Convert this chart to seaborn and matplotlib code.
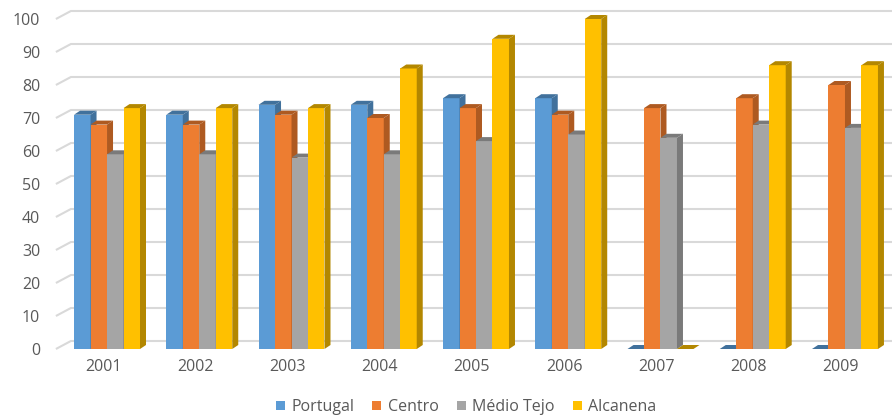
#!/usr/bin/env python3
import pandas as pd
import matplotlib
matplotlib.use("Agg")
import matplotlib.pyplot as plt
import matplotlib.transforms as mtransforms
from matplotlib.patches import Polygon
import seaborn as sns

# dados
anos = ["2001", "2002", "2003", "2004", "2005", "2006", "2007", "2008", "2009"]
regioes = ["Portugal", "Centro", "Médio Tejo", "Alcanena"]
portugal = [71, 71, 74, 74, 76, 76, 0, 0, 0]
centro = [68, 68, 71, 70, 73, 71, 73, 76, 80]
medio_tejo = [59, 59, 58, 59, 63, 65, 64, 68, 67]
alcanena = [73, 73, 73, 85, 94, 100, 0, 86, 86]

cores = ["#5B9BD5", "#ED7D31", "#A5A5A5", "#FFC000"]
cores_lado = ["#41719C", "#AE5A21", "#7A7A7A", "#B38700"]
cor_texto = "#595959"
cor_grelha = "#D9D9D9"

df = pd.DataFrame({"Ano": anos * 4,
                   "Regiao": [r for r in regioes for _ in anos],
                   "Valor": portugal + centro + medio_tejo + alcanena})

sns.set_style("white")
plt.rcParams["font.family"] = ["Open Sans", "DejaVu Sans"]

W_PX, H_PX = 892, 415
fig = plt.figure(figsize=(W_PX / 100, H_PX / 100), dpi=100)
ax_l, ax_r, ax_b, ax_t = 60.9, 891.1, 349, 19   # pixels (plano da frente)
ax = fig.add_axes([ax_l / W_PX, (H_PX - ax_b) / H_PX,
                   (ax_r - ax_l) / W_PX, (ax_b - ax_t) / H_PX])

sns.barplot(data=df, x="Ano", y="Valor", hue="Regiao", hue_order=regioes,
            palette=cores, width=0.715, saturation=1, linewidth=0, ax=ax)

ax.set_xlim(-0.5, 8.5)
ax.set_ylim(0, 100)
kx = 9 / (ax_r - ax_l)      # unidades x por pixel
ky = 100 / (ax_b - ax_t)    # unidades y por pixel

# efeito 3D: face lateral e topo de cada barra
dx, dy = 6 * kx, 4 * ky
for k, cont in enumerate(ax.containers):
    for p in cont:
        x0 = p.get_x()
        x1 = x0 + p.get_width()
        h = p.get_height()
        z = 2 + x0 * 0.01
        p.set_zorder(z)
        lado = Polygon([(x1, 0), (x1, h), (x1 + dx, h + dy), (x1 + dx, dy)],
                       closed=True, facecolor=cores_lado[k], edgecolor="none",
                       zorder=z, clip_on=False)
        topo = Polygon([(x0, h), (x1, h), (x1 + dx, h + dy), (x0 + dx, h + dy)],
                       closed=True, facecolor=cores_lado[k], edgecolor="none",
                       zorder=z, clip_on=False)
        ax.add_patch(lado)
        ax.add_patch(topo)

# grelha na parede do fundo
yticks = list(range(0, 101, 10))
for v in yticks:
    ax.plot([-0.5 - 5 * kx, -0.5 + 10 * kx, 8.5 + 12 * kx],
            [v, v + 8 * ky, v + 8 * ky],
            color=cor_grelha, lw=1.5, zorder=0.5, clip_on=False,
            solid_capstyle="butt")

ax.set_yticks(yticks)
ax.set_xlabel("")
ax.set_ylabel("")
for s in ax.spines.values():
    s.set_visible(False)
ax.tick_params(axis="y", length=0, pad=15, labelsize=11.5, labelcolor=cor_texto)
ax.tick_params(axis="x", length=0, pad=7, labelsize=11.5, labelcolor=cor_texto)
desloc = mtransforms.ScaledTranslation(-4 / 100, 0, fig.dpi_scale_trans)
for lbl in ax.get_xticklabels():
    lbl.set_transform(lbl.get_transform() + desloc)

handles, labels = ax.get_legend_handles_labels()
if ax.get_legend() is not None:
    ax.get_legend().remove()
fig.legend(handles, labels, loc="center", bbox_to_anchor=(466 / W_PX, (H_PX - 407) / H_PX),
           ncol=4, frameon=False, fontsize=11.5, labelcolor=cor_texto,
           handlelength=0.55, handleheight=0.55, handletextpad=0.4,
           columnspacing=1.15, borderpad=0)

fig.savefig("out.png", dpi=100)
